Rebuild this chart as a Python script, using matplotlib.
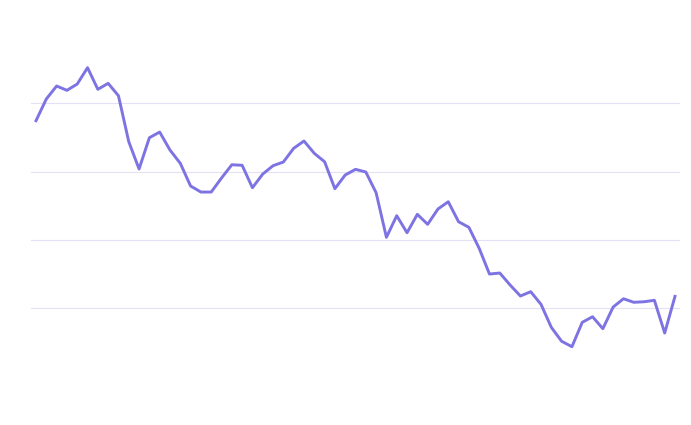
import matplotlib
matplotlib.use('Agg')
import matplotlib.pyplot as plt

# 数据
values = [37.43, 40.60, 42.50, 41.87, 42.79, 45.18, 42.02, 42.89, 41.08, 34.36,
          30.37, 34.94, 35.77, 33.14, 31.20, 27.88, 27.00, 27.00, 29.05, 30.99,
          30.91, 27.63, 29.63, 30.85, 31.39, 33.39, 34.46, 32.66, 31.43, 27.49,
          29.49, 30.32, 29.93, 26.90, 20.38, 23.54, 21.05, 23.74, 22.28, 24.52,
          25.58, 22.66, 21.84, 18.77, 15.01, 15.16, 13.41, 11.80, 12.43, 10.58,
          7.22, 5.18, 4.39, 7.95, 8.77, 7.02, 10.19, 11.40, 10.88, 10.96,
          11.17, 6.39, 11.75]
grid_ticks = [10, 20, 30, 40]

fig = plt.figure(figsize=(6.91, 4.25), dpi=100)
ax = fig.add_axes([31 / 691, 0.1136, 649 / 691, 0.8047])

# 网格线
for t in grid_ticks:
    ax.axhline(t, color='#e4e1f7', linewidth=0.8, zorder=1)

# 折线
ax.plot(range(len(values)), values, color='#7d73e3', linewidth=2.1, zorder=2)

ax.set_xlim(-0.485, len(values) - 1 + 0.485)
ax.set_ylim(0, 50)
ax.set_xticks([])
ax.set_yticks([])
for s in ax.spines.values():
    s.set_visible(False)

fig.savefig('out.png', dpi=100)
